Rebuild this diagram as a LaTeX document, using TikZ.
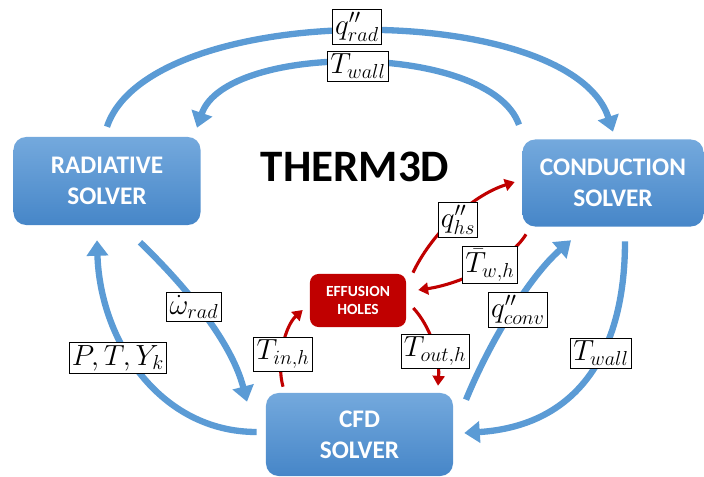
\documentclass[tikz,border=0pt]{standalone}
\usepackage{fontspec}
\newfontfamily\calib{Carlito}
\usetikzlibrary{arrows.meta,calc}
\definecolor{azz}{HTML}{5B9BD5}
\definecolor{azzchiaro}{HTML}{74A9DD}
\definecolor{azzscuro}{HTML}{4686C8}
\definecolor{rosso}{HTML}{C00000}
\tikzset{
  solver/.style={rounded corners=9pt, top color=azzchiaro, bottom color=azzscuro,
    text=white, align=center, font=\calib\bfseries\fontsize{18}{22}\selectfont},
  fori/.style={rounded corners=6pt, fill=rosso, text=white, align=center,
    font=\calib\bfseries\fontsize{11}{13}\selectfont},
  blu/.style={azz, line width=4.5pt, -{Triangle[width=15pt,length=11pt]}},
  ross/.style={rosso, line width=2.2pt, -{Triangle[width=8.5pt,length=7pt]}},
  lbl/.style={draw, fill=white, line width=0.6pt, inner sep=2pt, font=\huge}
}
\begin{document}
\begin{tikzpicture}[x=0.025cm, y=0.025cm]
        \clip (0,0) rectangle (704,476);
        %blocchi
        \node[solver, minimum width=4.675cm, minimum height=2.2cm] (rad) at (107,295) {RADIATIVE\\SOLVER};
        \node[solver, minimum width=4.525cm, minimum height=2.175cm] (cond) at (613,293) {CONDUCTION\\SOLVER};
        \node[solver, minimum width=4.675cm, minimum height=2.075cm] (cfd) at (359.5,41.5) {CFD\\SOLVER};
        \node[fori, minimum width=2.4cm, minimum height=1.325cm] (eff) at (358,175.5) {EFFUSION\\HOLES};
        \node (titolo) at (355,309) {\calib\bfseries\fontsize{32}{36}\selectfont THERM3D};

        %frecce blu
        \draw[blu] ($(rad.north)+(0,10)$) .. controls (150,477) and (570,477) .. ($(cond.north)+(0,7.5)$);
        \draw[blu] ($(cond.north)+(-94,14.5)$) .. controls (490,434) and (226,434) .. ($(rad.north)+(90,9)$);
        \draw[blu] ($(cfd.west)+(-9,2.5)$) .. controls (160,44) and (100,135) .. ($(rad.south)+(-10,-15)$);
        \draw[blu] ($(rad.south)+(33,-17)$) .. controls (175,200) and (230,140) .. ($(cfd.north)+(-112.5,-9)$);
        \draw[blu] ($(cfd.north)+(106.5,-7)$) .. controls (490,135) and (530,200) .. ($(cond.south)+(-42,-13.5)$);
        \draw[blu] ($(cond.south)+(12,-14.5)$) .. controls (625,120) and (575,50) .. ($(cfd.east)+(11,1.5)$);

        %frecce rosse
        \draw[ross] ($(cfd.north)+(-76.5,6)$) .. controls (276,115) and (285,150) .. ($(eff.west)+(-7,-9.5)$);
        \draw[ross] ($(eff.east)+(7,-7.5)$) .. controls (430,150) and (440,120) .. ($(cfd.north)+(78.5,7)$);
        \draw[ross] ($(eff.north)+(55,1)$) .. controls (430,240) and (470,280) .. ($(cond.west)+(-7.5,1)$);
        \draw[ross] ($(cond.south)+(-87,-7.5)$) .. controls (510,215) and (460,192) .. ($(eff.east)+(12,10.5)$);

        %etichette
        \node[lbl] (lqrad) at (357,449) {$q''_{rad}$};
        \node[lbl] (ltwa) at (358,410) {$T_{wall}$};
        \node[lbl] (lpty) at (118,118) {$P,T,Y_k$};
        \node[lbl] (lom) at (194,169) {$\dot{\omega}_{rad}$};
        \node[lbl] (lqconv) at (518,166) {$q''_{conv}$};
        \node[lbl] (ltwb) at (601,123) {$T_{wall}$};
        \node[lbl] (ltin) at (283,122) {$T_{in,h}$};
        \node[lbl] (ltout) at (435,125) {$T_{out,h}$};
        \node[lbl] (lqhs) at (458,256) {$q''_{hs}$};
        \node[lbl] (ltwh) at (490,211) {$\bar{T}_{w,h}$};
\end{tikzpicture}
\end{document}
